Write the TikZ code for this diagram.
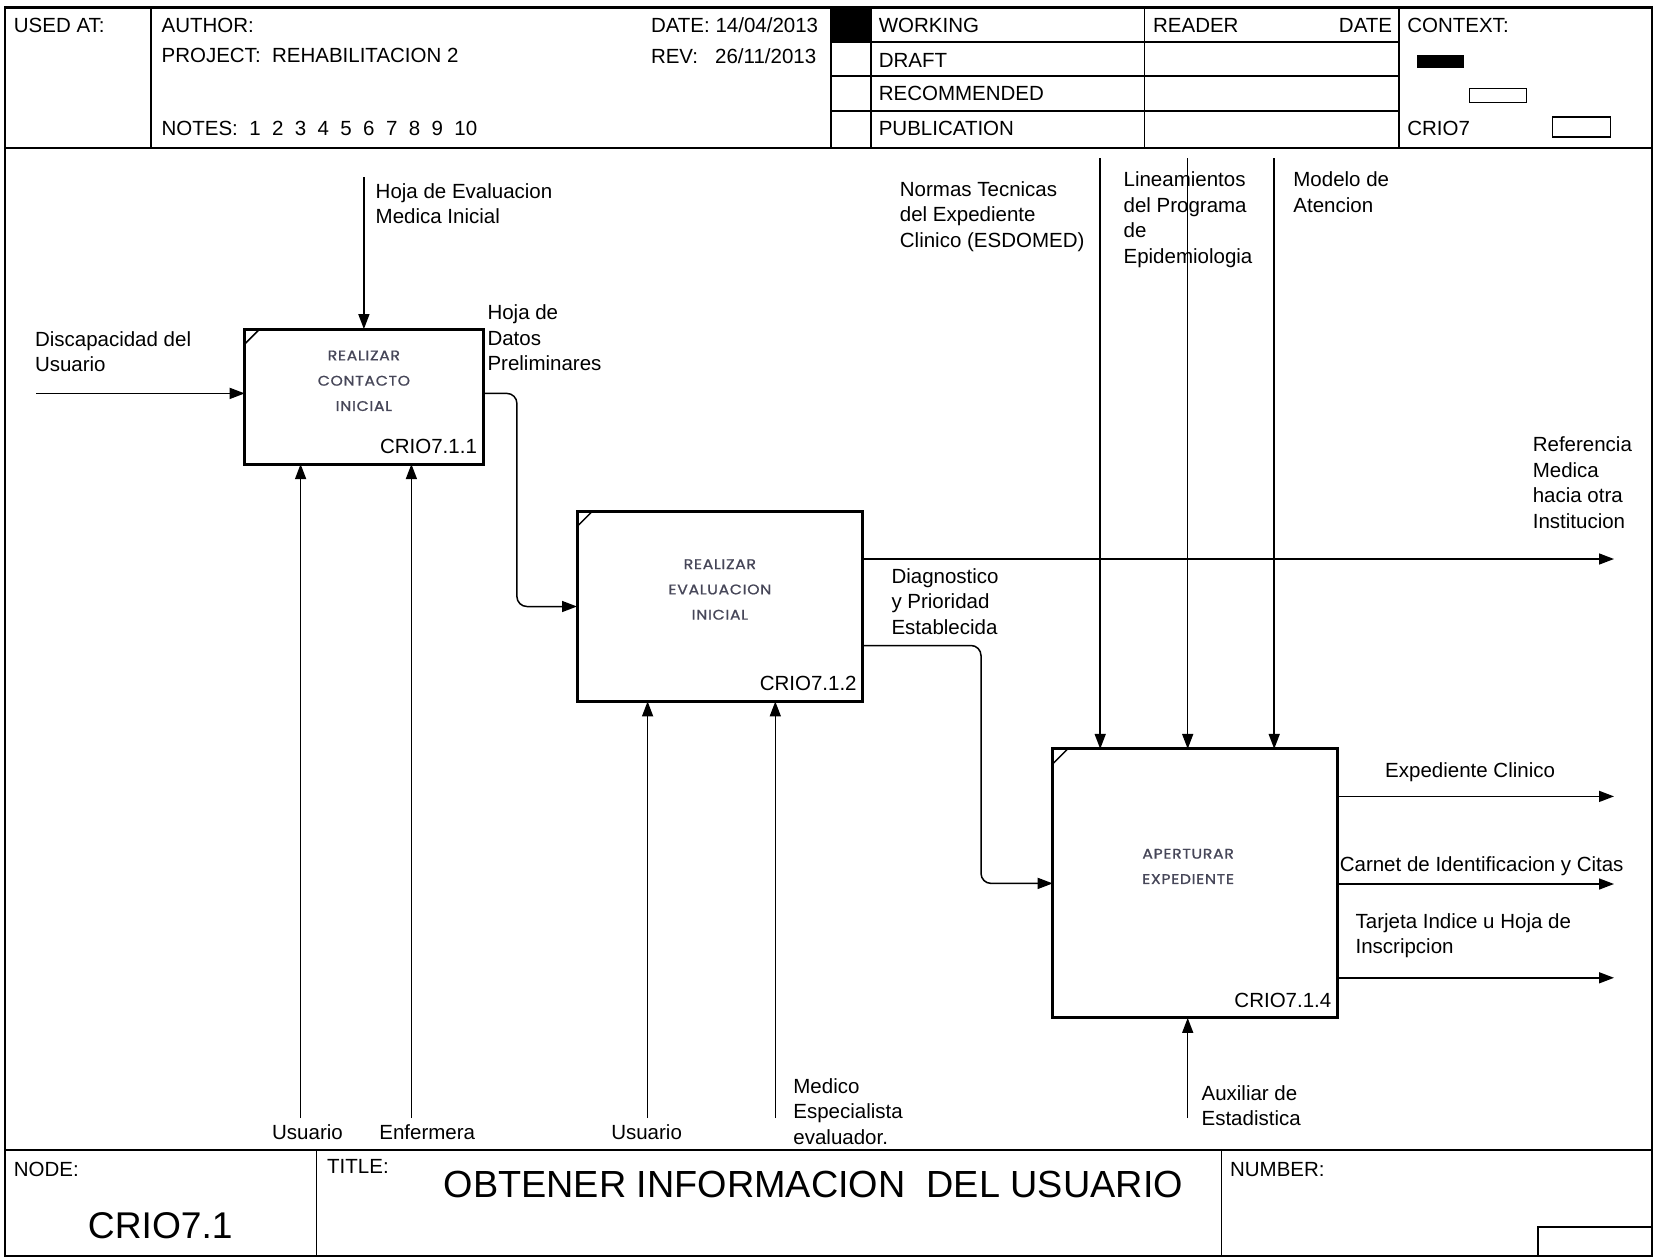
\documentclass[tikz,border=0pt]{standalone}
\usepackage{fontspec}
\setmainfont{Liberation Sans}
\newfontfamily\actfont[FakeStretch=1.12, LetterSpace=5, FakeBold=1]{Poppins}
\usetikzlibrary{arrows.meta}
\definecolor{actgray}{RGB}{70,70,88}
\begin{document}
\begin{tikzpicture}[x=1pt,y=-1pt,
  frame/.style={line width=2.2pt},
  rule/.style={line width=1.6pt},
  actbox/.style={draw, line width=3pt, anchor=north west, inner sep=0pt, outer sep=0pt},
  flow/.style={line width=1.5pt, -{Triangle[length=15pt,width=11pt]}},
  lbl/.style={font=\fontsize{20.5}{25.5}\selectfont, inner sep=0pt, align=left, anchor=north west},
  mlbl/.style={font=\fontsize{20.5}{25.5}\selectfont, inner sep=0pt, anchor=north},
  hdr/.style={font=\fontsize{20.5}{25}\selectfont, inner sep=0pt, anchor=west},
  acttext/.style={font=\actfont\fontsize{14}{25.3}\selectfont, text=actgray, align=center, inner sep=0pt},
  boxid/.style={font=\fontsize{20.5}{24}\selectfont, anchor=base east, inner sep=0pt},
]
\useasboundingbox (0,0) rectangle (1654,1258);
\fill[white] (0,0) rectangle (1654,1258);

% ---------- sheet frame ----------
\draw[frame] (5,7.4) rectangle (1652,1256);
\draw[rule] (5,147.7) -- (1652,147.7);
\draw[rule] (5,1149.7) -- (1652,1149.7);

% header columns and rows
\draw[rule] (150.8,7.4) -- (150.8,147.7);
\draw[rule] (831,7.4) -- (831,147.7);
\draw[rule] (871,7.4) -- (871,147.7);
\draw[rule] (1144.5,7.4) -- (1144.5,147.7);
\draw[rule] (1398.7,7.4) -- (1398.7,147.7);
\draw[rule] (831,42) -- (1398.7,42);
\draw[rule] (831,76) -- (1398.7,76);
\draw[rule] (831,111) -- (1398.7,111);
\fill (831,7.4) rectangle (871,42);

% context marks
\fill (1416.6,54.8) rectangle (1464.1,67.5);
\draw[line width=1.4pt] (1469.3,88.6) rectangle (1526.3,102.3);
\draw[line width=1.4pt] (1552.7,117.1) rectangle (1610.7,137.1);

% header texts
\node[hdr] (usedat) at (13.7,25.3) {USED AT:};
\node[hdr] (author) at (161.4,25.3) {AUTHOR:};
\node[hdr] (project) at (161.4,55.9) {PROJECT:~~REHABILITACION 2};
\node[hdr] (notes) at (161.4,128.7) {NOTES:~~1~~2~~3~~4~~5~~6~~7~~8~~9~~10};
\node[hdr] (date) at (650.8,25.3) {DATE: 14/04/2013};
\node[hdr] (rev) at (650.8,55.9) {REV:~~~26/11/2013};
\node[hdr] (working) at (878.6,25.3) {WORKING};
\node[hdr] (draft) at (878.6,60.1) {DRAFT};
\node[hdr] (recom) at (878.6,93.9) {RECOMMENDED};
\node[hdr] (publ) at (878.6,128.7) {PUBLICATION};
\node[hdr] (reader) at (1152.9,25.3) {READER};
\node[hdr, anchor=east] (rdate) at (1392.3,25.3) {DATE};
\node[hdr] (context) at (1407.1,25.3) {CONTEXT:};
\node[hdr] (ctxnode) at (1407.1,128.7) {CRIO7};

% footer
\draw[rule] (316.5,1149.7) -- (316.5,1256);
\draw[rule] (1221.5,1149.7) -- (1221.5,1256);
\draw[line width=1.4pt] (1537.9,1256) -- (1537.9,1226.8) -- (1652,1226.8);
\node[hdr] (nodelbl) at (13.7,1169.8) {NODE:};
\node[hdr] (titlelbl) at (327,1166.6) {TITLE:};
\node[hdr] (numlbl) at (1229.9,1169.8) {NUMBER:};
\node[font=\fontsize{37.8}{42}\selectfont, inner sep=0pt] (title) at (813.3,1184) {OBTENER INFORMACION~~DEL USUARIO};
\node[font=\fontsize{37.2}{42}\selectfont, inner sep=0pt] (nodeid) at (160.3,1225.7) {CRIO7.1};

% ---------- activity boxes ----------
\node[actbox, minimum width=238.4pt, minimum height=135pt] (b1) at (244.7,329.1) {};
\node[actbox, minimum width=285.8pt, minimum height=189.8pt] (b2) at (577,511.6) {};
\node[actbox, minimum width=284.8pt, minimum height=269pt] (b3) at (1052.7,748.9) {};

\foreach \b in {b1,b2,b3}
  \draw[line width=1.5pt] ([xshift=15pt]\b.north west) -- ([yshift=-15pt]\b.north west);

\node[acttext] (t1) at ([yshift=15.8pt]b1.center) {REALIZAR\\CONTACTO\\INICIAL};
\node[acttext] (t2) at ([yshift=17pt]b2.center) {REALIZAR\\EVALUACION\\INICIAL};
\node[acttext] (t3) at ([xshift=-7pt,yshift=17pt]b3.center) {APERTURAR\\EXPEDIENTE};

\node[boxid] (id1) at ([xshift=-6pt,yshift=10.5pt]b1.south east) {CRIO7.1.1};
\node[boxid] (id2) at ([xshift=-6pt,yshift=10.5pt]b2.south east) {CRIO7.1.2};
\node[boxid] (id3) at ([xshift=-6pt,yshift=10.5pt]b3.south east) {CRIO7.1.4};

% ---------- arrow ends ----------
\coordinate (in1) at (36,393.4);
\coordinate (c1) at (363.9,177);
\coordinate (m1a) at (300.6,1118);
\coordinate (m1b) at (411.4,1118);
\coordinate (k1) at (516.9,393.4);
\coordinate (m2a) at (647.6,1118);
\coordinate (m2b) at (775.3,1118);
\coordinate (o2a) at (1614,559);
\coordinate (k2) at (981,645.5);
\coordinate (c3a) at (1100.2,158);
\coordinate (c3b) at (1187.7,158);
\coordinate (c3c) at (1274.2,158);
\coordinate (o3a) at (1614,796.4);
\coordinate (o3b) at (1614,884);
\coordinate (o3c) at (1614,977.8);
\coordinate (m3) at (1187.7,1118);

% ---------- arrows ----------
\draw[flow] (in1) -- (in1 -| b1.west);
\draw[flow] (c1) -- (c1 |- b1.north);
\draw[flow] (m1a) -- (m1a |- b1.south);
\draw[flow] (m1b) -- (m1b |- b1.south);
\draw[flow, rounded corners=10pt] (k1 -| b1.east) -- (k1) |- (b2.west);
\draw[flow] (m2a) -- (m2a |- b2.south);
\draw[flow] (m2b) -- (m2b |- b2.south);
\draw[flow] (o2a -| b2.east) -- (o2a);
\draw[flow, rounded corners=10pt] (k2 -| b2.east) -- (k2) |- (b3.west);
\draw[flow] (c3a) -- (c3a |- b3.north);
\draw[flow] (c3b) -- (c3b |- b3.north);
\draw[flow] (c3c) -- (c3c |- b3.north);
\draw[flow] (o3a -| b3.east) -- (o3a);
\draw[flow] (o3b -| b3.east) -- (o3b);
\draw[flow] (o3c -| b3.east) -- (o3c);
\draw[flow] (m3) -- (m3 |- b3.south);

% ---------- arrow labels ----------
\node[lbl] (l1) at (34.8,331) {Discapacidad del\\Usuario};
\node[lbl] (l2) at (375.5,183.4) {Hoja de Evaluacion\\Medica Inicial};
\node[lbl] (l3) at (487.3,304.7) {Hoja de\\Datos\\Preliminares};
\node[mlbl] (l4) at (307.5,1124.3) {Usuario};
\node[mlbl] (l5) at (427.2,1124.3) {Enfermera};
\node[mlbl] (l6) at (646.6,1124.3) {Usuario};
\node[lbl] (l7) at (793.2,1078) {Medico\\Especialista\\evaluador.};
\node[lbl] (l8) at (891.3,568.4) {Diagnostico\\y Prioridad\\Establecida};
\node[lbl] (l9) at (1532.6,436.6) {Referencia\\Medica\\hacia otra\\Institucion};
\node[lbl] (l10) at (899.7,181.3) {Normas Tecnicas\\del Expediente\\Clinico (ESDOMED)};
\node[lbl] (l11) at (1123.4,171.8) {Lineamientos\\del Programa\\de\\Epidemiologia};
\node[lbl] (l12) at (1293.2,171.8) {Modelo de\\Atencion};
\node[lbl] (l13) at (1385,762.5) {Expediente Clinico};
\node[lbl] (l14) at (1339.6,856.4) {Carnet de Identificacion y Citas};
\node[lbl] (l15) at (1355.4,913.3) {Tarjeta Indice u Hoja de\\Inscripcion};
\node[lbl] (l16) at (1201.4,1085.3) {Auxiliar de\\Estadistica};
\end{tikzpicture}
\end{document}
